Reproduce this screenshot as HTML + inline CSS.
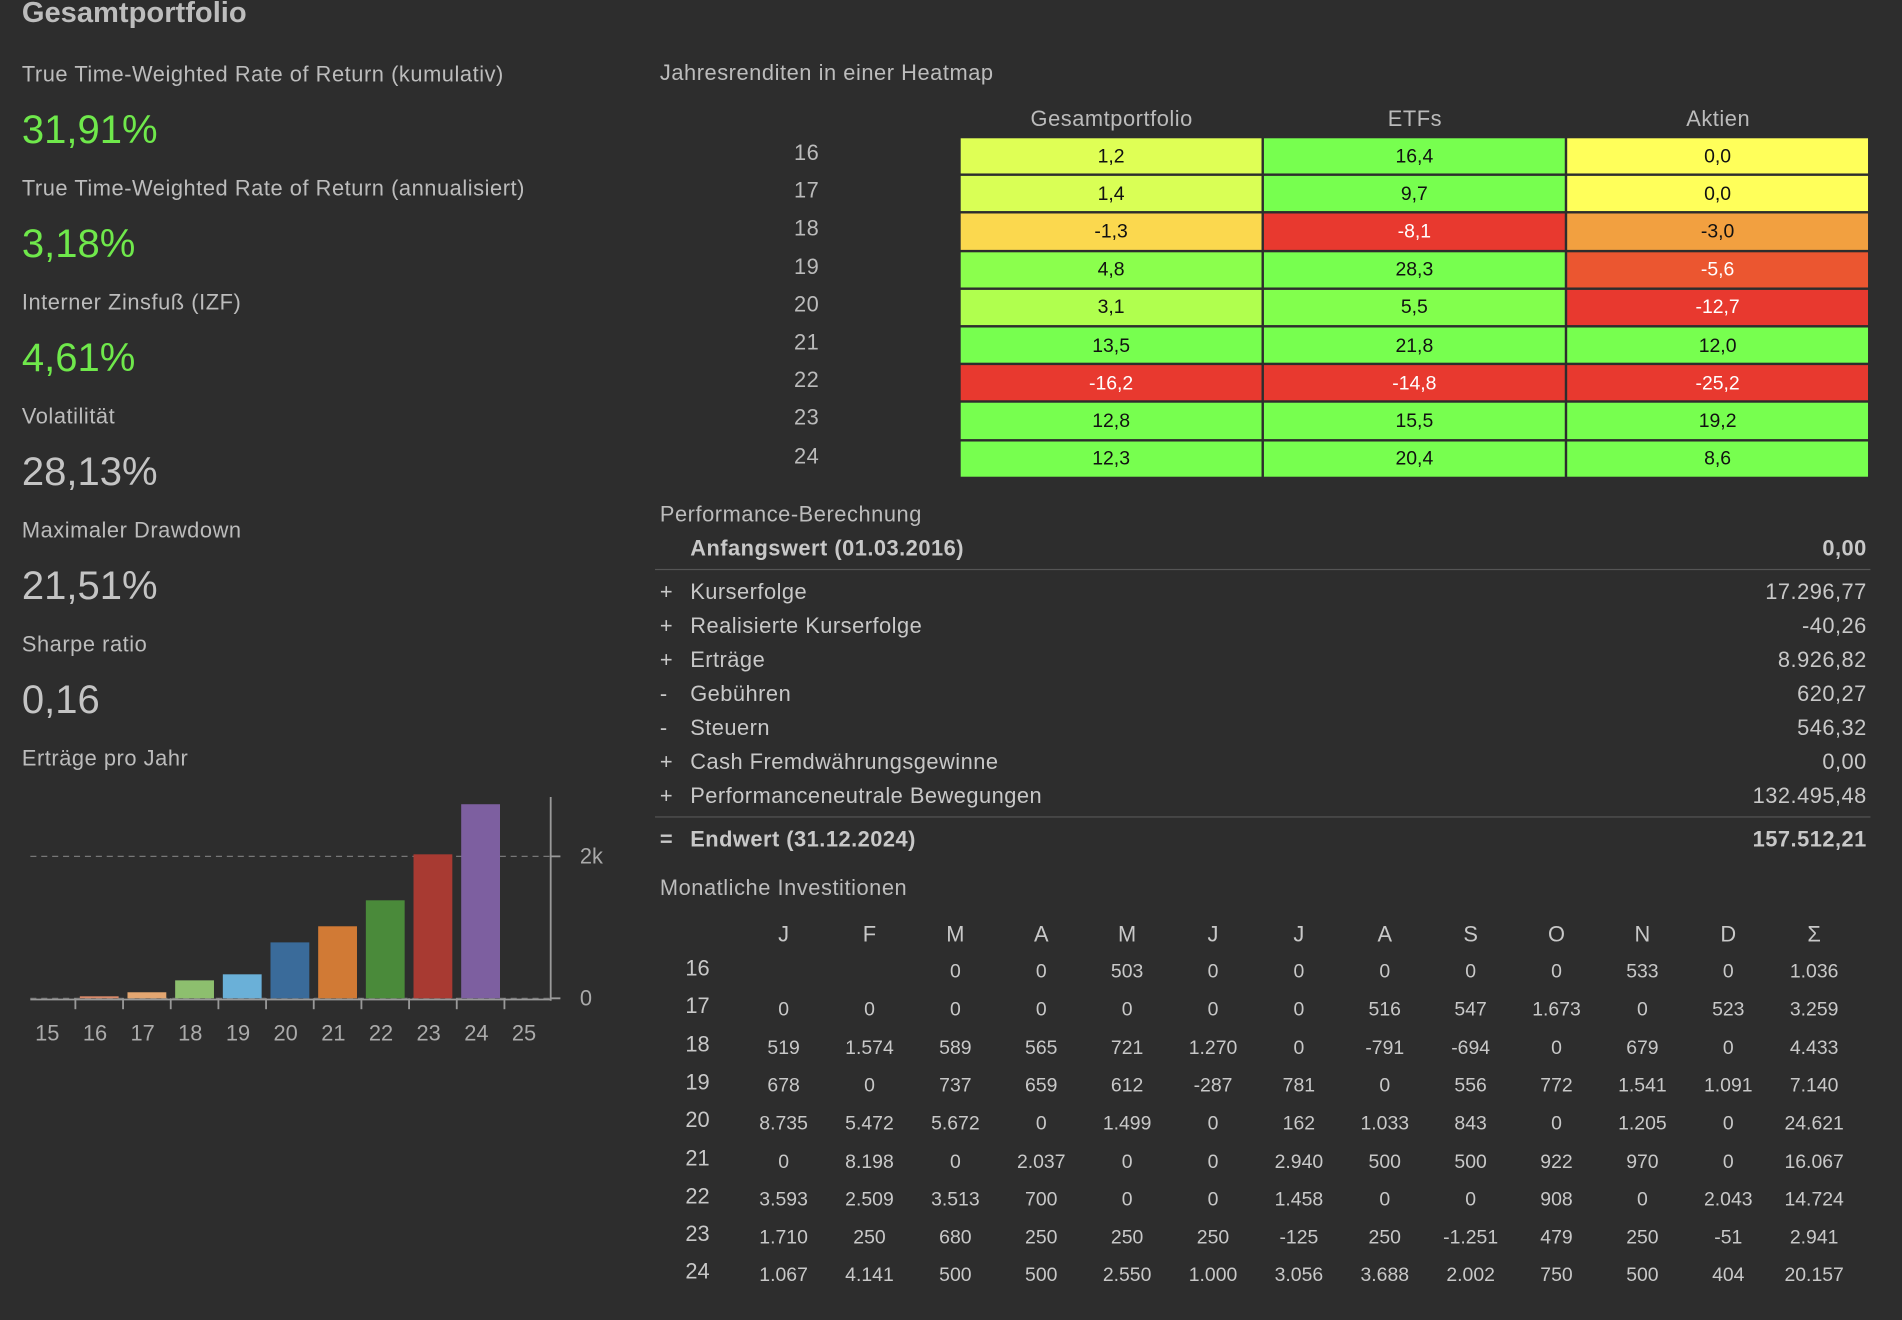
<!DOCTYPE html>
<html><head><meta charset="utf-8">
<style>
html,body{margin:0;padding:0;background:#2d2d2d;width:1902px;height:1320px;overflow:hidden}
#wrap{position:absolute;left:0;top:0;width:1568px;height:1088px;transform:scale(1.2130);transform-origin:0 0;font-family:"Liberation Sans",sans-serif;color:#bdbdbd}
.t{position:absolute;white-space:nowrap;line-height:1}
.lbl{font-size:18px;letter-spacing:0.45px;color:#bcbcbc}
.txt{font-size:18px;letter-spacing:0.4px}
.val{font-size:33px;color:#c4c4c4}
.g{color:#6fe84b}
.r{text-align:right}
.c{text-align:center;transform:translateX(-50%)}
.hr{position:absolute;height:1px;background:#555}
</style></head><body>
<div id="wrap">
<div class="t" style="left:18px;top:-1px;font-size:24px;font-weight:bold;color:#bdbdbd">Gesamtportfolio</div>

<div class="t lbl" style="left:18px;top:52px">True Time-Weighted Rate of Return (kumulativ)</div>
<div class="t val g" style="left:18px;top:90px">31,91%</div>
<div class="t lbl" style="left:18px;top:146px">True Time-Weighted Rate of Return (annualisiert)</div>
<div class="t val g" style="left:18px;top:184px">3,18%</div>
<div class="t lbl" style="left:18px;top:240px">Interner Zinsfuß (IZF)</div>
<div class="t val g" style="left:18px;top:278px">4,61%</div>
<div class="t lbl" style="left:18px;top:334px">Volatilität</div>
<div class="t val" style="left:18px;top:372px">28,13%</div>
<div class="t lbl" style="left:18px;top:428px">Maximaler Drawdown</div>
<div class="t val" style="left:18px;top:466px">21,51%</div>
<div class="t lbl" style="left:18px;top:522px">Sharpe ratio</div>
<div class="t val" style="left:18px;top:560px">0,16</div>
<div class="t lbl" style="left:18px;top:616px">Erträge pro Jahr</div>

<svg id="bars" style="position:absolute;left:0;top:640px" width="520" height="240"></svg>

<div class="t lbl" style="left:544px;top:51px">Jahresrenditen in einer Heatmap</div>
<div id="heat"></div>

<div class="t lbl" style="left:544px;top:415px">Performance-Berechnung</div>
<div id="perf"></div>

<div class="t lbl" style="left:544px;top:723px">Monatliche Investitionen</div>
<div id="monthly"></div>
</div>

<script>
// ---- bar chart data ----
const barYears = ["15","16","17","18","19","20","21","22","23","24","25"];
const barValues = [0, 28, 85, 253, 338, 788, 1015, 1381, 2029, 2735, 0];
const barColors = ["#888","#d98a6a","#e3a671","#8dbf6e","#6ab0d8","#3a6b9a","#d17a35","#4a8a3a","#a83a32","#7d5fa0","#888"];
const yTicks = [0, 2000];
const yTickLabels = ["0","2k"];

// ---- heatmap data ----
const heatCols = ["Gesamtportfolio","ETFs","Aktien"];
const heatRows = ["16","17","18","19","20","21","22","23","24"];
const heatGesamt = [1.2,1.4,-1.3,4.8,3.1,13.5,-16.2,12.8,12.3];
const heatETF = [16.4,9.7,-8.1,28.3,5.5,21.8,-14.8,15.5,20.4];
const heatAktien = [0.0,0.0,-3.0,-5.6,-12.7,12.0,-25.2,19.2,8.6];

// ---- performance data ----
const perfSigns = ["+","+","+","-","-","+","+"];
const perfLabels = ["Kurserfolge","Realisierte Kurserfolge","Erträge","Gebühren","Steuern","Cash Fremdwährungsgewinne","Performanceneutrale Bewegungen"];
const perfValues = ["17.296,77","-40,26","8.926,82","620,27","546,32","0,00","132.495,48"];

// ---- monthly data ----
const monthHeaders = ["J","F","M","A","M","J","J","A","S","O","N","D","Σ"];
const monthRows = ["16","17","18","19","20","21","22","23","24"];
const m16 = ["","", "0","0","503","0","0","0","0","0","533","0","1.036"];
const m17 = ["0","0","0","0","0","0","0","516","547","1.673","0","523","3.259"];
const m18 = ["519","1.574","589","565","721","1.270","0","-791","-694","0","679","0","4.433"];
const m19 = ["678","0","737","659","612","-287","781","0","556","772","1.541","1.091","7.140"];
const m20 = ["8.735","5.472","5.672","0","1.499","0","162","1.033","843","0","1.205","0","24.621"];
const m21 = ["0","8.198","0","2.037","0","0","2.940","500","500","922","970","0","16.067"];
const m22 = ["3.593","2.509","3.513","700","0","0","1.458","0","0","908","0","2.043","14.724"];
const m23 = ["1.710","250","680","250","250","250","-125","250","-1.251","479","250","-51","2.941"];
const m24 = ["1.067","4.141","500","500","2.550","1.000","3.056","3.688","2.002","750","500","404","20.157"];

const NS="http://www.w3.org/2000/svg";
function sv(tag,attrs,parent){const e=document.createElementNS(NS,tag);for(const k in attrs)e.setAttribute(k,attrs[k]);parent.appendChild(e);return e;}

(function(){
  const svg=document.getElementById('bars');
  const x0=39, step=39.3, base=183, pxPer=117/2000, bw=32, shift=3.5;
  const X=i=>x0+i*step; const Y=v=>base-v*pxPer;
  yTicks.forEach((t,i)=>{
    const gl=sv('line',{x1:25,x2:454,y1:Y(t),y2:Y(t),stroke:'#777','stroke-dasharray':'5,4','stroke-width':1},svg);
    
    
    const tk=sv('line',{x1:454,x2:462,y1:Y(t),y2:Y(t),stroke:'#999','stroke-width':1.5},svg);
    
    
    const tl=sv('text',{x:478,y:Y(t)+6,fill:'#aaa','font-size':18,'font-family':'Liberation Sans'},svg);
    tl.textContent=yTickLabels[i];
    
    
  });
  barValues.forEach((v,i)=>{
    if(v>0){
      const r=sv('rect',{x:X(i)+shift-bw/2,y:Y(v),width:bw,height:base-Y(v),fill:barColors[i]},svg);
      
      
    }
    const l=sv('text',{x:X(i),y:218,fill:'#aaa','font-size':18,'text-anchor':'middle','font-family':'Liberation Sans'},svg);
    l.textContent=barYears[i];
    
    
    if(i>0){
      const t=sv('line',{x1:X(i)+shift-step/2,x2:X(i)+shift-step/2,y1:base,y2:base+9,stroke:'#999','stroke-width':1.5},svg);
      
      
    }
  });
  const xa=sv('line',{x1:25,x2:454,y1:base+1,y2:base+1,stroke:'#999','stroke-width':1.5},svg);
  
  
  const ya=sv('line',{x1:454,x2:454,y1:17,y2:base+2,stroke:'#999','stroke-width':1.5},svg);
  
  
})();

function el(parent,cls,style,text){const d=document.createElement('div');d.className=cls;d.style.cssText=style;if(text!==undefined)d.textContent=text;parent.appendChild(d);return d;}

function heatColor(v){
  if(v<-7) return '#e8392f';
  if(v<-3.5) return '#eb5630';
  if(v<-2) return '#f2a040';
  if(v<0) return '#fbd84e';
  if(v===0) return '#ffff5a';
  if(v<1.3) return '#dfff55';
  if(v<2) return '#d9ff55';
  if(v<4) return '#b0ff4e';
  if(v<5) return '#8bff4d';
  if(v<7) return '#82ff4d';
  return '#77ff4f';
}
(function(){
  const h=document.getElementById('heat');
  const series=[heatGesamt,heatETF,heatAktien];
  const cx=[792,1042,1292], cw=249, top=114, rh=31.2;
  heatCols.forEach((c,j)=>{
    const d=el(h,'t c lbl',`left:${cx[j]+cw/2}px;top:89px;color:#bbb`,c);
    
    
  });
  heatRows.forEach((r,i)=>{
    const d=el(h,'t c lbl',`left:665px;top:${top+i*rh+3}px;color:#bbb`,r);
    
    
    series.forEach((s,j)=>{
      const v=s[i];
      const cell=el(h,'t',`left:${cx[j]}px;top:${top+i*rh}px;width:${cw-1}px;height:${rh-2}px;background:${heatColor(v)};color:${v<=-3.5?'#fff':'#111'};font-size:16px;display:flex;align-items:center;justify-content:center;padding-top:2px;box-sizing:border-box`,v.toFixed(1).replace('.',','));
      
      
    });
  });
})();

(function(){
  const p=document.getElementById('perf');
  const lc='#c8c8c8';
  let d=el(p,'t txt',`left:569px;top:443px;font-weight:bold;color:${lc}`,'Anfangswert (01.03.2016)');
  
  
  d=el(p,'t r txt',`right:${1568-1539}px;top:443px;font-weight:bold;color:${lc}`,'0,00');
  
  
  d=el(p,'hr','left:540px;top:469px;width:1002px');
  
  
  perfLabels.forEach((l,i)=>{
    const y=479+i*28;
    let e=el(p,'t txt',`left:544px;top:${y}px;color:${lc}`,perfSigns[i]);
    
    
    e=el(p,'t txt',`left:569px;top:${y}px;color:${lc}`,l);
    
    
    e=el(p,'t r txt',`right:${1568-1539}px;top:${y}px;color:${lc}`,perfValues[i]);
    
    
  });
  d=el(p,'hr','left:540px;top:673px;width:1002px');
  
  
  d=el(p,'t txt',`left:544px;top:683px;font-weight:bold;color:${lc}`,'=');
  
  
  d=el(p,'t txt',`left:569px;top:683px;font-weight:bold;color:${lc}`,'Endwert (31.12.2024)');
  
  
  d=el(p,'t r txt',`right:${1568-1539}px;top:683px;font-weight:bold;color:${lc}`,'157.512,21');
  
  
})();

(function(){
  const m=document.getElementById('monthly');
  const rows=[m16,m17,m18,m19,m20,m21,m22,m23,m24];
  const x0=646, step=70.8, rh=31.3;
  monthHeaders.forEach((h,j)=>{
    const d=el(m,'t c',`left:${x0+j*step}px;top:761px;font-size:18px;color:#c8c8c8`,h);
    
    
  });
  monthRows.forEach((r,i)=>{
    const d=el(m,'t c',`left:575px;top:${789+i*rh}px;font-size:18px;color:#c8c8c8`,r);
    
    
    rows[i].forEach((v,j)=>{
      const c=el(m,'t c',`left:${x0+j*step}px;top:${794+i*rh}px;font-size:16px;color:#c8c8c8`,v);
      
      
    });
  });
})();
</script>
</body></html>
